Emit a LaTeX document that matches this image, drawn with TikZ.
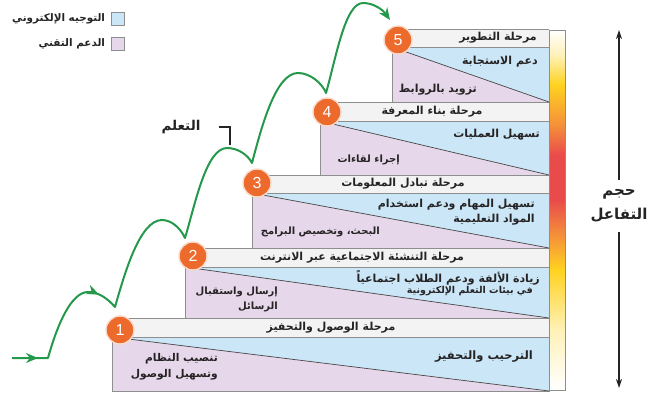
\documentclass[tikz,border=0pt]{standalone}
\usepackage{fontspec}
\usetikzlibrary{arrows.meta,decorations.markings}
\TeXXeTstate=1
\newfontfamily\arfont[Script=Arabic]{DejaVu Sans}
\newfontfamily\numfont{Liberation Sans}
\newcommand\AR[1]{\beginR #1\endR}

\definecolor{guideblue}{HTML}{CBE7F7}
\definecolor{supportpurple}{HTML}{E7D7EA}
\definecolor{hdrfill}{HTML}{F3F3F3}
\definecolor{edgegray}{HTML}{8E8E8E}
\definecolor{inkdark}{HTML}{262324}
\definecolor{pathgreen}{HTML}{25994B}
\definecolor{badge}{HTML}{EC6A2C}
\definecolor{barred}{HTML}{E94B4B}
\definecolor{barorange}{HTML}{F5903A}
\definecolor{baryellow}{HTML}{FFD21F}
\definecolor{barpale}{HTML}{FFF1B8}

% intensity bar: the path box maps to 25bp..75bp of the shading
\pgfdeclareverticalshading{intensity}{100bp}{%
  color(0bp)=(white); color(25bp)=(white); color(33.3bp)=(barpale);
  color(41.7bp)=(baryellow); color(46.5bp)=(barorange); color(51.4bp)=(barred);
  color(57.6bp)=(barred); color(61.8bp)=(barorange); color(67.4bp)=(baryellow);
  color(71.5bp)=(barpale); color(75bp)=(white); color(100bp)=(white)}

\begin{document}
\begin{tikzpicture}[x=1pt,y=-1pt,
  bodyedge/.style={draw=edgegray, line width=0.7pt},
  hdrbox/.style={draw=edgegray, fill=hdrfill, line width=0.7pt},
  divider/.style={draw=inkdark!85, line width=0.7pt},
  hdrtxt/.style={font=\arfont\bfseries\fontsize{11}{12}\selectfont, text=inkdark, inner sep=0pt},
  bodytxt/.style={font=\arfont\bfseries\fontsize{11}{15}\selectfont, text=inkdark, inner sep=0pt, align=right},
  bodysm/.style={bodytxt, font=\arfont\bfseries\fontsize{10}{15}\selectfont},
  smalltxt/.style={font=\arfont\bfseries\fontsize{9.5}{10}\selectfont, text=inkdark, inner sep=0pt},
  legendtxt/.style={font=\arfont\bfseries\fontsize{10.4}{12}\selectfont, text=inkdark, inner sep=0pt, anchor=east},
  swatch/.style={draw=edgegray, line width=0.6pt, minimum size=13pt, inner sep=0pt},
  stepnum/.style={circle, fill=badge, draw=white!75!badge, line width=1.4pt, minimum size=28pt,
    inner sep=0pt, text=white, font=\numfont\fontsize{16}{16}\selectfont},
  flow/.style={draw=pathgreen, line width=2pt, line join=round,
    decoration={markings,
      mark=at position 26pt with {\arrow{Stealth[length=12pt,width=10pt]}},
      mark=at position 128pt with {\arrow{Stealth[length=12pt,width=10pt]}}},
    postaction={decorate}},
  volarrow/.style={draw=inkdark, line width=1.3pt, -{Stealth[length=9pt,width=6pt]}},
  leader/.style={draw=inkdark, line width=1.2pt}
]
\useasboundingbox (0,0) rectangle (647,396);

% stair steps: left edge / header top / header bottom / body bottom
\foreach \L/\T/\H/\B in {112/318/337/391, 185/248/267/318, 252/175/193/248,
                         320/102/121/175, 392/29/47/102}{
  \fill[supportpurple] (\L,\H) -- (\L,\B) -- (549,\B) -- cycle;
  \fill[guideblue] (\L,\H) -- (549,\H) -- (549,\B) -- cycle;
  \draw[bodyedge] (\L,\H) rectangle (549,\B);
  \draw[divider] (\L,\H) -- (549,\B);
  \draw[hdrbox] (\L,\T) rectangle (549,\H);
}

% intensity bar
\shade[shading=intensity] (549,30) rectangle (565,390);
\draw[edgegray, line width=0.6pt] (549,30) rectangle (565,390);

% header labels
\node[hdrtxt] (h1) at (331,327.5) {\AR{مرحلة الوصول والتحفيز}};
\node[hdrtxt] (h2) at (362,257.5) {\AR{مرحلة التنشئة الاجتماعية عبر الانترنت}};
\node[hdrtxt] (h3) at (403,184) {\AR{مرحلة تبادل المعلومات}};
\node[hdrtxt] (h4) at (432,111.5) {\AR{مرحلة بناء المعرفة}};
\node[hdrtxt, anchor=east] (h5) at (537,38) {\AR{مرحلة التطوير}};

% step 5 texts
\node[bodytxt, anchor=east] (g5) at (538,62) {\AR{دعم الاستجابة}};
\node[bodytxt, anchor=east] (s5) at (477,90) {\AR{تزويد بالروابط}};
% step 4 texts
\node[bodytxt, anchor=east] (g4) at (540,135) {\AR{تسهيل العمليات}};
\node[bodysm, anchor=east] (s4) at (400,160) {\AR{إجراء لقاءات}};
% step 3 texts
\node[bodytxt, anchor=east] (g3) at (535,212.5) {\AR{تسهيل المهام ودعم استخدام}\\\AR{المواد التعليمية}};
\node[bodysm, anchor=east] (s3) at (380,232) {\AR{البحث، وتخصيص البرامج}};
% step 2 texts
\node[bodytxt, anchor=east] (g2) at (540,278) {\AR{زيادة الألفة ودعم الطلاب اجتماعياً}};
\node[smalltxt, anchor=east] (g2b) at (533,291.5) {\AR{في بيئات التعلم الإلكترونية}};
\node[bodysm, anchor=east] (s2) at (278,299.5) {\AR{إرسال واستقبال}\\\AR{الرسائل}};
% step 1 texts
\node[bodytxt, anchor=east, font=\arfont\bfseries\fontsize{11.5}{15}\selectfont] (g1) at (533,357) {\AR{الترحيب والتحفيز}};
\node[bodytxt, anchor=east, font=\arfont\bfseries\fontsize{10.7}{16.5}\selectfont] (s1) at (218,366.5) {\AR{تنصيب النظام}\\\AR{وتسهيل الوصول}};

% legend
\node[swatch, fill=guideblue] (kb) at (118,18.5) {};
\node[swatch, fill=supportpurple] (kp) at (118,43.5) {};
\node[legendtxt] (kbt) at ([xshift=-6pt]kb.west) {\AR{التوجيه الإلكتروني}};
\node[legendtxt] (kpt) at ([xshift=-6pt]kp.west) {\AR{الدعم التقني}};

% learning path
\coordinate (p0) at (12,358);
\coordinate (p1) at (48,358);
\coordinate (k1) at (115,307);
\coordinate (k2) at (185,238);
\coordinate (k3) at (252,163);
\coordinate (k4) at (326,93);
\coordinate (pe) at (390,20);
\draw[flow, -{Stealth[length=12pt,width=10pt]}]
  (p0) -- (p1)
  .. controls (58,322) and (72,292) .. (88,292)
  .. controls (99,292) and (108,299) .. (k1)
  .. controls (125,272) and (140,220) .. (162,220)
  .. controls (172,220) and (181,229) .. (k2)
  .. controls (195,205) and (206,148) .. (227,148)
  .. controls (238,148) and (248,155) .. (k3)
  .. controls (262,125) and (276,73) .. (298,73)
  .. controls (310,73) and (322,83) .. (k4)
  .. controls (336,58) and (345,3) .. (363,3)
  .. controls (374,3) and (383,10) .. (pe);

% numbered badges
\node[stepnum] (c1) at (120,330) {1};
\node[stepnum] (c2) at (193,256) {2};
\node[stepnum] (c3) at (257,183) {3};
\node[stepnum] (c4) at (327,112) {4};
\node[stepnum] (c5) at (398,40) {5};

% learning label with leader
\node[font=\arfont\bfseries\fontsize{13.5}{15}\selectfont, text=inkdark, inner sep=0pt] (learn) at (181,127) {\AR{التعلم}};
\coordinate (lt) at (230,145);
\draw[leader] ([xshift=18pt]learn.east) -| (lt);

% interaction volume
\node[font=\arfont\bfseries\fontsize{15}{24}\selectfont, text=inkdark, align=center, inner xsep=0pt, inner ysep=9pt] (vol) at (619,206) {\AR{حجم}\\\AR{التفاعل}};
\coordinate (vt) at (619,30);
\coordinate (vb) at (619,388);
\draw[volarrow] (vol.north) -- (vt);
\draw[volarrow] (vol.south) -- (vb);
\end{tikzpicture}
\end{document}
